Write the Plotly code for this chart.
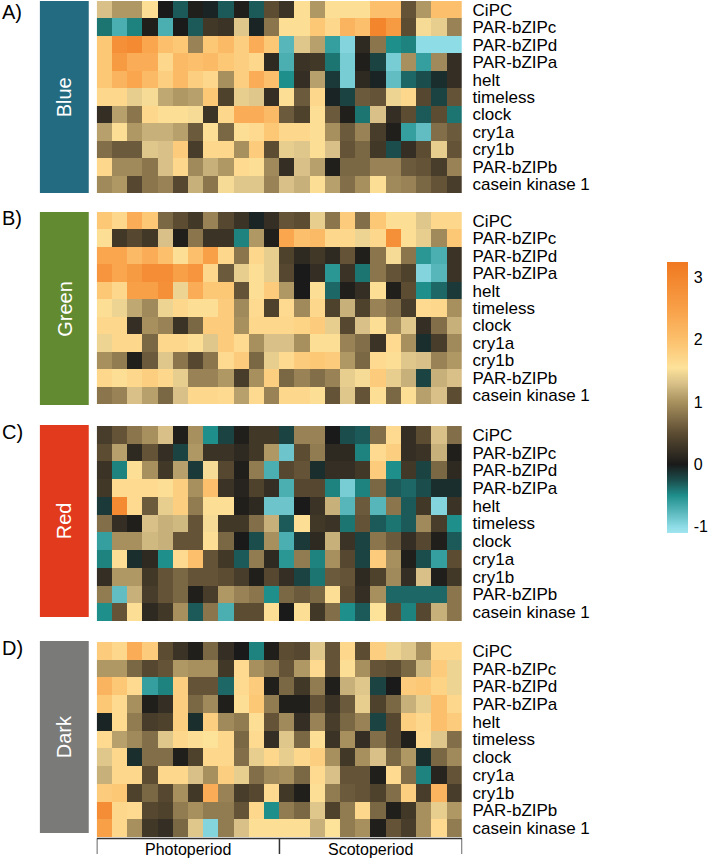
import plotly.graph_objects as go

W, H = 709, 859

genes = ["CiPC", "PAR-bZIPc", "PAR-bZIPd", "PAR-bZIPa", "helt", "timeless",
         "clock", "cry1a", "cry1b", "PAR-bZIPb", "casein kinase 1"]
time_points = list(range(24))
conditions = ["Blue", "Green", "Red", "Dark"]
panel_letters = ["A)", "B)", "C)", "D)"]
period_labels = ["Photoperiod", "Scotoperiod"]
colorbar_ticks = [-1, 0, 1, 2, 3]

blue = [
    [1.3, 1.05, 1.05, 1.6, 0.0, -0.3, 0.05, -0.05, -0.3, 0.05, -0.3, 0.5, 0.25, 1.6, 1.05, 1.6, 1.6, 1.6, 2.0, 2.0, 0.55, 1.05, 2.0, 2.0],
    [-0.4, -0.7, -0.45, 0.05, -0.7, 0.0, -0.3, 0.3, 0.25, 1.35, -0.05, 0.8, 1.6, 1.6, 1.9, 1.7, 2.2, 2.0, 3.0, 2.6, 0.5, 1.5, 1.4, 0.9],
    [1.9, 2.8, 2.9, 2.4, 2.0, 1.9, 0.9, 1.9, 2.1, 1.8, 2.3, 1.9, -0.75, 1.35, 1.1, -0.6, -0.95, 0.15, 0.8, -0.5, -0.45, -1.0, -1.0, -1.0],
    [1.9, 2.6, 2.3, 2.3, 1.7, 2.1, 2.0, 2.1, 1.9, 1.8, 1.7, 0.15, -0.7, 0.25, 0.3, -0.4, -0.9, 0.05, -0.2, -0.9, 1.0, -0.6, 0.95, 0.2],
    [1.9, 2.2, 2.4, 2.1, 1.8, 2.1, 1.8, 1.7, 1.0, 1.8, 2.3, 2.0, -0.5, 0.2, 1.1, -0.15, -0.9, 0.15, -0.05, -0.8, -0.35, -0.25, -0.1, 0.2],
    [1.7, 1.7, 1.4, 1.5, 1.15, 1.05, 1.1, 1.9, 0.4, 1.4, 1.35, 0.2, 1.6, 0.6, 1.7, -0.05, -0.2, 0.6, 0.55, 1.45, 1.7, 0.45, -0.2, 0.55],
    [0.2, 1.1, 0.8, 1.7, 1.6, 1.6, 1.5, 0.25, 1.7, 2.3, 2.3, 2.1, 0.6, 0.4, 1.6, 0.6, 0.05, -0.4, 1.3, 0.2, 0.5, -0.3, 0.5, -0.4],
    [1.1, 1.6, 1.05, 1.2, 1.2, 1.1, 0.6, 1.6, 0.7, 1.6, 1.65, 1.9, 1.7, 1.7, 1.6, 1.0, 0.6, 0.9, 0.35, 0.05, -0.6, -0.8, 0.75, 0.6],
    [0.75, 0.6, 0.6, 1.35, 1.3, 1.85, 0.35, 1.7, 1.7, 1.0, 1.85, 0.5, 1.4, 1.35, 1.6, 1.3, 0.55, 0.7, 0.3, -0.25, 0.2, 0.5, 1.4, 0.55],
    [1.7, 0.95, 0.95, 0.8, 1.3, 1.7, 0.95, 1.2, 1.05, 1.65, 1.6, 0.95, 0.2, 1.3, 1.1, 0.05, 0.7, 0.7, 0.9, 0.9, 0.6, 0.55, 0.35, 0.9],
    [0.95, 1.05, 0.45, 0.8, 0.9, 0.45, 1.2, 0.8, 1.5, 1.35, 1.35, 0.9, 1.3, 1.2, 1.6, 1.1, 0.75, 1.0, 1.6, 0.95, 0.9, 0.7, 0.55, 0.35],
]

green = [
    [1.9, 1.7, 2.3, 1.9, 0.7, 0.5, 0.3, 0.9, 0.45, 0.25, -0.05, 0.2, 0.55, 0.5, 1.4, 0.8, 1.85, 0.75, 1.9, 1.6, 1.6, 1.35, 1.7, 1.7],
    [1.6, 0.3, 0.45, 0.3, 1.3, 0.05, 0.8, 0.25, 0.25, -0.45, 1.05, 0.05, 2.4, 2.0, 2.1, 1.7, 1.7, 1.45, 1.7, 2.8, 1.6, 1.4, 0.95, 1.9],
    [2.4, 2.4, 2.1, 2.3, 2.0, 1.6, 2.0, 2.5, 1.7, 0.8, 1.7, 1.4, 0.4, 0.15, 0.3, 0.15, 0.55, 0.05, 0.8, 1.5, 0.8, -0.55, -0.7, 0.25],
    [2.7, 2.4, 2.6, 2.85, 2.85, 2.5, 2.7, 1.7, 0.6, 1.4, 1.6, 1.4, 0.45, 0.0, 0.2, -0.55, 0.25, -0.4, 0.8, 0.55, 0.4, -0.95, -0.75, 0.25],
    [1.9, 1.7, 2.5, 2.5, 2.8, 1.45, 2.3, 1.9, 1.9, 0.55, 1.6, 1.85, 1.05, 0.0, 1.6, -0.35, 0.05, 0.2, 1.6, 0.05, 0.5, -0.5, -0.35, -0.15],
    [1.6, 1.45, 1.15, 0.95, 1.45, 1.7, 1.6, 1.6, 1.85, 0.95, 1.65, 0.4, 1.65, 0.95, 1.7, 0.4, 1.2, 0.4, 0.9, 0.75, 0.35, 1.65, 1.7, 1.0],
    [1.7, 1.7, 0.2, 1.0, 0.9, 0.25, 0.7, 1.85, 1.85, 1.0, 1.7, 1.7, 1.7, 1.75, 1.85, 1.4, 0.45, 1.3, 1.6, 0.95, 1.35, 0.2, 0.75, 1.2],
    [1.45, 1.7, 1.7, 0.7, 1.7, 1.7, 1.6, 1.35, 1.85, 1.65, 1.0, 1.3, 1.3, 1.0, 1.6, 1.6, 0.9, 0.75, 0.25, 1.65, 1.0, -0.1, 0.35, 0.95],
    [1.0, 0.85, 0.05, 0.6, 1.35, 0.8, 0.45, 0.8, 1.65, 1.85, 0.7, 1.4, 1.65, 1.85, 1.9, 1.85, 1.05, 0.7, 1.65, 1.6, 1.35, 1.3, 0.9, 1.05],
    [1.7, 1.6, 1.7, 1.8, 1.7, 1.4, 0.9, 0.9, 1.05, 0.35, 1.0, 1.8, 0.7, 0.9, 0.75, 0.9, 1.4, 1.5, 1.85, 1.4, 1.2, -0.2, 1.2, 1.3],
    [0.8, 0.9, 1.3, 1.1, 0.7, 1.3, 1.7, 1.7, 1.65, 1.1, 1.65, 0.9, 1.7, 1.7, 1.6, 0.55, 1.35, 0.55, 1.6, 0.7, 1.6, 1.1, 1.3, 0.5],
]

red = [
    [0.35, 0.55, 0.8, 1.0, 1.3, 0.05, 1.0, -0.5, -0.2, 0.05, 0.3, 0.3, -0.2, 0.9, 0.9, 0.0, -0.25, -0.3, 0.75, 1.65, 0.2, 0.5, 1.3, 0.75],
    [0.5, 1.1, 0.15, 0.55, 0.2, -0.2, 1.05, 0.25, 0.25, 0.15, 0.3, 1.05, -0.85, 0.5, 0.85, 0.15, 0.15, -0.45, 1.65, 1.8, 0.2, 0.25, 1.2, 0.05],
    [0.25, -0.45, 1.6, 1.0, 0.3, 1.1, -0.15, 1.5, 0.45, 0.05, 0.85, -0.7, 0.45, 0.55, -0.1, 0.2, 0.2, 0.3, 1.85, -0.5, 0.3, -0.2, 0.7, 0.15],
    [0.3, 1.65, 1.65, 1.65, 1.6, 1.8, 1.0, 2.0, 0.25, 0.1, 0.4, 0.2, -0.7, 0.45, 0.45, -0.45, -0.9, -0.45, 0.7, -0.3, -0.35, -0.25, -0.1, -0.1],
    [-0.15, 2.9, 1.65, 0.6, 1.4, 1.8, 0.85, 1.6, 1.6, 0.05, 0.15, -0.85, -0.85, 0.0, 0.25, 1.2, -0.75, 0.6, -0.75, 0.8, -0.3, 0.3, -0.95, 0.25],
    [0.75, 0.2, 0.05, 1.3, 1.2, 1.25, 0.55, 1.5, 0.3, 0.3, 0.75, 1.2, -0.3, 1.6, 0.3, 0.25, -0.4, 0.55, -0.3, -0.4, -0.3, 0.95, 0.35, -0.5],
    [-0.6, 1.0, 1.0, 1.25, 1.2, 0.55, 0.55, 1.6, 0.7, 0.0, -0.25, 1.0, -0.7, -0.15, 0.15, 1.2, 0.25, -0.2, 0.8, 0.6, 0.2, 0.45, 0.05, -0.3],
    [-0.45, 1.6, -0.1, 0.15, -0.5, 1.65, 2.0, 0.55, 0.3, -0.3, 0.85, 0.15, -0.55, 0.85, -0.45, 1.0, 0.45, -0.2, 1.85, 1.0, 0.05, -0.25, -0.6, 0.5],
    [0.2, 1.05, 1.05, 0.3, 0.55, 0.7, 0.55, 0.55, 0.5, 0.35, 0.05, 0.45, 0.2, -0.2, -0.4, 0.6, 0.55, 0.15, 0.4, 0.95, 0.2, 1.3, 0.05, 0.3],
    [0.85, -0.8, 1.2, 0.35, 0.55, 0.7, 0.05, 0.35, 1.05, 0.9, 0.8, -0.5, 0.7, 0.6, 0.7, 1.6, 0.5, 0.2, 1.0, -0.35, -0.35, -0.35, -0.35, 0.8],
    [-0.5, 0.55, 1.6, 0.15, 0.3, 1.0, -0.3, 0.8, -0.7, 0.5, 0.5, 1.6, 0.0, 1.6, 0.3, 0.75, -0.5, -0.3, 1.55, 0.5, -0.45, 0.45, 1.2, 0.8],
]

dark = [
    [1.85, 1.7, 2.3, 1.85, 0.5, 0.25, 0.05, 0.7, 0.2, 0.0, -0.45, 0.05, 0.5, 0.45, 1.35, 0.55, 1.7, 0.5, 1.8, 1.45, 1.35, 1.0, 1.7, 1.7],
    [1.05, 1.05, 0.7, 0.45, 0.55, 1.05, 1.0, 1.0, 0.3, 1.65, 1.0, 0.85, 0.55, 1.05, 1.65, 0.55, 1.6, 1.0, 0.55, 0.5, 0.7, 1.25, 1.85, 1.45],
    [2.2, 1.9, 1.65, -0.6, -0.45, 1.8, 0.55, 0.55, -0.35, 1.65, 1.85, 0.05, 0.7, 0.3, 0.85, 0.05, 1.2, 1.35, -0.2, 0.0, 1.85, 1.9, 1.75, 1.45],
    [1.9, 1.65, 1.0, 0.05, 0.2, 1.8, 0.7, 0.95, 0.05, 1.6, 1.9, 0.85, 0.05, 0.05, 0.55, 0.25, 0.6, 1.4, 0.4, 0.7, 1.2, 1.4, 2.0, 1.7],
    [-0.05, 1.65, 0.85, 0.35, 0.4, 1.8, -0.1, 1.8, 0.95, 0.85, 1.6, 0.55, 0.95, 0.2, 0.9, 0.35, 0.7, 0.9, -0.2, 0.45, 1.8, 1.7, 2.0, 1.85],
    [1.65, 1.1, 0.95, 0.75, 1.35, 1.7, 1.6, 1.55, 1.7, 0.7, 1.65, 0.2, 1.35, 0.7, 1.6, 0.25, 1.0, 0.2, 0.75, 0.45, 0.05, 1.65, 1.35, 0.75],
    [1.35, 1.7, -0.1, 0.75, 0.75, 0.05, 0.4, 1.7, 1.7, 0.75, 1.4, 1.7, 1.4, 1.7, 1.8, 1.0, 0.3, 1.0, 1.3, 0.7, 1.05, -0.1, 0.7, 0.95],
    [1.2, 1.7, 1.7, 0.5, 1.7, 1.7, 1.3, 1.0, 1.8, 1.4, 0.75, 0.95, 1.0, 0.7, 1.65, 1.3, 0.55, 0.55, 0.05, 1.65, 0.75, -0.45, 0.1, 0.55],
    [1.85, 1.9, 0.4, 0.7, 0.45, 1.0, 0.3, 2.3, 0.9, 0.35, 0.45, 1.65, 0.3, 0.05, 1.6, 0.85, 0.6, 0.55, 0.4, 0.75, 1.8, 0.35, 2.2, 0.35],
    [2.85, 1.7, 1.65, 0.45, 0.4, 0.85, 1.0, 0.85, 0.85, 0.55, 1.7, -0.5, 0.85, 0.7, 1.35, 0.4, 0.85, 1.7, 0.7, 0.05, 0.3, 1.0, 1.4, 1.05],
    [2.5, 1.7, 1.0, 0.3, 0.2, 0.7, 1.35, -0.95, 0.85, 1.3, 1.6, 1.6, 1.6, 1.6, 1.2, 1.55, 0.85, 1.0, 0.05, 0.55, 0.35, 1.0, 1.65, 0.85],
]

panels = [blue, green, red, dark]

# ---------- styling / layout (pixel helpers) ----------
def fx(p):
    return p / W

def fy(p):
    return 1 - p / H

FONT = "Arial, Liberation Sans, Helvetica, sans-serif"
ZMIN, ZMAX = -1.1, 3.25

def pos(v):
    return min(1.0, max(0.0, (v - ZMIN) / (ZMAX - ZMIN)))

colorscale = [
    [pos(-1.1), "#a0e4ee"],
    [pos(-1.0), "#8edce6"],
    [pos(-0.5), "#1f8f8c"],
    [pos(-0.25), "#1b4d4c"],
    [pos(0.0), "#1a1a1a"],
    [pos(0.5), "#5c4c32"],
    [pos(1.0), "#a8905e"],
    [pos(1.3), "#d8c088"],
    [pos(1.55), "#fde29a"],
    [pos(2.0), "#fcc06c"],
    [pos(2.5), "#f8a048"],
    [pos(3.25), "#f07820"],
]

heat_px = [(1, 193), (212, 404), (426, 621), (642, 837)]
box_px = [(1, 193), (212, 405), (425, 617), (641, 833)]
box_colors = ["#236b80", "#628a30", "#e23a1c", "#7a7a78"]
letter_y = [12, 218, 432, 648]
x_left, x_right = 97, 463.5

fig = go.Figure()
layout = dict(
    width=W, height=H,
    margin=dict(l=0, r=0, t=0, b=0),
    paper_bgcolor="white", plot_bgcolor="white",
    showlegend=False,
    font=dict(family=FONT, color="black"),
    coloraxis=dict(
        colorscale=colorscale, cmin=ZMIN, cmax=ZMAX,
        colorbar=dict(
            x=fx(669), xanchor="left", xpad=0,
            y=fy((262 + 533) / 2), yanchor="middle", ypad=0,
            len=(533 - 262) / H, lenmode="fraction",
            thickness=21, thicknessmode="pixels",
            outlinewidth=0,
            tickvals=colorbar_ticks,
            ticktext=[str(t) for t in colorbar_ticks],
            ticks="outside", ticklen=3, tickcolor="rgba(0,0,0,0)",
            tickfont=dict(size=16, family=FONT, color="black"),
        ),
    ),
)

shapes = []
annotations = []
for i, (z, cond) in enumerate(zip(panels, conditions)):
    n = "" if i == 0 else str(i + 1)
    fig.add_trace(go.Heatmap(
        z=z, x=time_points, y=genes, coloraxis="coloraxis",
        xaxis="x" + n, yaxis="y" + n, xgap=0, ygap=0,
        hovertemplate="%{y}<br>%{x}: %{z}<extra>" + cond + "</extra>",
    ))
    top, bot = heat_px[i]
    layout["xaxis" + n] = dict(
        domain=[fx(x_left), fx(x_right)], anchor="y" + n,
        showticklabels=False, showgrid=False, zeroline=False, showline=False,
        ticks="", range=[-0.5, 23.5],
    )
    layout["yaxis" + n] = dict(
        domain=[fy(bot), fy(top)], anchor="x" + n, side="right",
        autorange="reversed", showgrid=False, zeroline=False, showline=False,
        tickmode="array", tickvals=genes, ticktext=genes,
        ticks="outside", ticklen=6, tickcolor="rgba(0,0,0,0)",
        tickfont=dict(size=17, family=FONT, color="black"),
    )
    bt, bb = box_px[i]
    shapes.append(dict(type="rect", xref="paper", yref="paper",
                       x0=fx(40), x1=fx(89), y0=fy(bb), y1=fy(bt),
                       fillcolor=box_colors[i], line=dict(width=0), layer="below"))
    annotations.append(dict(xref="paper", yref="paper", x=fx(64.5), y=fy((bt + bb) / 2),
                            text=cond, showarrow=False, textangle=-90,
                            font=dict(size=20, color="white", family=FONT),
                            xanchor="center", yanchor="middle"))
    annotations.append(dict(xref="paper", yref="paper", x=0, y=fy(letter_y[i]),
                            text=panel_letters[i], showarrow=False,
                            font=dict(size=20, color="black", family=FONT),
                            xanchor="left", yanchor="middle"))

# Bottom bracket for photo/scotoperiod (in data coords of last panel)
line_style = dict(color="#333333", width=1.5)
y_line, y_tick = fy(838.5), fy(854)
shapes.append(dict(type="line", xref="x4", yref="paper", x0=-0.5, x1=23.5,
                   y0=y_line, y1=y_line, line=line_style))
for xv in [-0.5, 11.5, 23.5]:
    shapes.append(dict(type="line", xref="x4", yref="paper", x0=xv, x1=xv,
                       y0=y_line, y1=y_tick, line=line_style))
for xv, lab in zip([5.5, 17.5], period_labels):
    annotations.append(dict(xref="x4", yref="paper", x=xv, y=fy(849),
                            text=lab, showarrow=False,
                            font=dict(size=16, color="black", family=FONT),
                            xanchor="center", yanchor="middle"))

layout["shapes"] = shapes
layout["annotations"] = annotations
fig.update_layout(**layout)
fig.write_html(
    "out.html",
    config={"displayModeBar": False},
    post_script="document.body.style.margin='0';document.body.style.padding='0';"
                "document.documentElement.style.overflow='hidden';",
)
